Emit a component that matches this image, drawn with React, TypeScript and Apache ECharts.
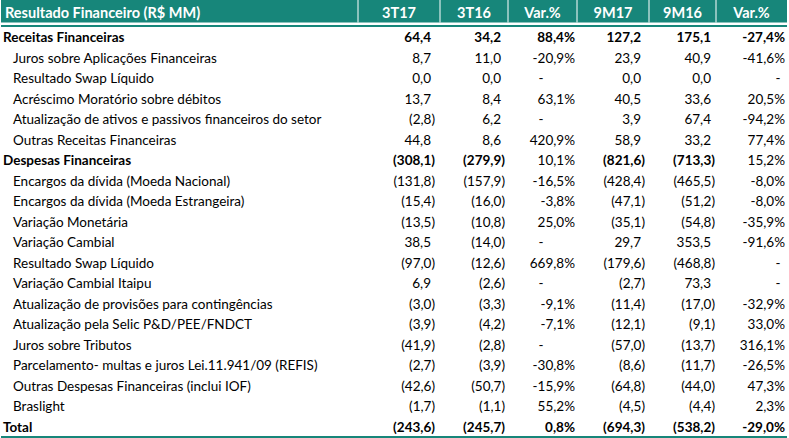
import React, { useEffect, useRef } from "react";
import * as echarts from "echarts";

const title = "Resultado Financeiro (R$ MM)";
const columns = ["3T17", "3T16", "Var.%", "9M17", "9M16", "Var.%"];

const rowLabels = [
  "Receitas Financeiras",
  "Juros sobre Aplicações Financeiras",
  "Resultado Swap Líquido",
  "Acréscimo Moratório sobre débitos",
  "Atualização de ativos e passivos financeiros do setor",
  "Outras Receitas Financeiras",
  "Despesas Financeiras",
  "Encargos da dívida (Moeda Nacional)",
  "Encargos da dívida (Moeda Estrangeira)",
  "Variação Monetária",
  "Variação Cambial",
  "Resultado Swap Líquido",
  "Variação Cambial Itaipu",
  "Atualização de provisões para contingências",
  "Atualização pela Selic P&D/PEE/FNDCT",
  "Juros sobre Tributos",
  "Parcelamento- multas e juros Lei.11.941/09 (REFIS)",
  "Outras Despesas Financeiras (inclui IOF)",
  "Braslight",
  "Total",
];
const boldRows = [0, 6, 19];
const boldPctRows = [0, 19];

const v3T17 = [64.4, 8.7, 0.0, 13.7, -2.8, 44.8, -308.1, -131.8, -15.4, -13.5, 38.5, -97.0, 6.9, -3.0, -3.9, -41.9, -2.7, -42.6, -1.7, -243.6];
const v3T16 = [34.2, 11.0, 0.0, 8.4, 6.2, 8.6, -279.9, -157.9, -16.0, -10.8, -14.0, -12.6, -2.6, -3.3, -4.2, -2.8, -3.9, -50.7, -1.1, -245.7];
const var3T = [88.4, -20.9, null, 63.1, null, 420.9, 10.1, -16.5, -3.8, 25.0, null, 669.8, null, -9.1, -7.1, null, -30.8, -15.9, 55.2, 0.8];
const v9M17 = [127.2, 23.9, 0.0, 40.5, 3.9, 58.9, -821.6, -428.4, -47.1, -35.1, 29.7, -179.6, -2.7, -11.4, -12.1, -57.0, -8.6, -64.8, -4.5, -694.3];
const v9M16 = [175.1, 40.9, 0.0, 33.6, 67.4, 33.2, -713.3, -465.5, -51.2, -54.8, 353.5, -468.8, 73.3, -17.0, -9.1, -13.7, -11.7, -44.0, -4.4, -538.2];
const var9M = [-27.4, -41.6, null, 20.5, -94.2, 77.4, 15.2, -8.0, -8.0, -35.9, -91.6, null, null, -32.9, 33.0, 316.1, -26.5, 47.3, 2.3, -29.0];

// layout
const W = 789;
const H = 438;
const colEdges = [1, 358, 440, 508, 577, 649, 716, 787];
const TEAL = "#17867A";
const FONT = "Lato, 'Open Sans', sans-serif";
const FS = 13.5;
const HFS = 14.5;

const fmtNum = (n: number) => {
  const s = Math.abs(n).toFixed(1).replace(".", ",");
  return n < 0 ? "(" + s + ")" : s;
};
const fmtPct = (n: number) => n.toFixed(1).replace(".", ",") + "%";

type Col = { values: (number | null)[]; kind: "num" | "pct"; right: number; dash: number };
const valueCols: Col[] = [
  { values: v3T17, kind: "num", right: 435, dash: 0 },
  { values: v3T16, kind: "num", right: 505, dash: 0 },
  { values: var3T, kind: "pct", right: 575, dash: 541 },
  { values: v9M17, kind: "num", right: 645, dash: 0 },
  { values: v9M16, kind: "num", right: 715, dash: 0 },
  { values: var9M, kind: "pct", right: 785, dash: 778 },
];
const PAREN_W = 4;

export default function App() {
  const ref = useRef<HTMLDivElement>(null);
  useEffect(() => {
    document.body.style.margin = "0";
    if (!ref.current) return;
    const chart = echarts.init(ref.current, undefined, { renderer: "svg" });

    const txt = (text: string, x: number, y: number, align: string, bold: boolean, fill = "#000", size = FS) => ({
      type: "text",
      style: {
        text,
        x,
        y,
        align,
        verticalAlign: "middle",
        textAlign: align,
        textVerticalAlign: "middle",
        fontFamily: FONT,
        fontSize: size,
        fontWeight: bold ? "bold" : "normal",
        fill,
      },
    });

    const graphics: any[] = [
      { type: "rect", shape: { x: colEdges[0], y: 0, width: colEdges[7] - colEdges[0], height: 22.5 }, style: { fill: TEAL } },
      { type: "rect", shape: { x: colEdges[0], y: 25, width: colEdges[7] - colEdges[0], height: 2 }, style: { fill: TEAL } },
      { type: "rect", shape: { x: colEdges[0], y: 436, width: colEdges[7] - colEdges[0], height: 2 }, style: { fill: TEAL } },
    ];
    for (let i = 1; i < 7; i++) {
      graphics.push({ type: "rect", shape: { x: colEdges[i] - 0.5, y: 0, width: 1, height: 22.5 }, style: { fill: "#ffffff" } });
    }
    graphics.push(txt(title, 5, 12, "left", true, "#fff", HFS));
    columns.forEach((c, i) => {
      graphics.push(txt(c, (colEdges[i + 1] + colEdges[i + 2]) / 2, 12, "center", true, "#fff", HFS));
    });

    chart.setOption({
      animation: false,
      grid: { left: 0, right: 0, top: 27, bottom: 1 },
      xAxis: { type: "value", min: 0, max: W, show: false },
      yAxis: { type: "category", data: rowLabels, inverse: true, show: false },
      graphic: graphics,
      series: [
        {
          type: "custom",
          data: rowLabels.map((_, i) => [0, i]),
          renderItem: (params: any, api: any) => {
            const r = params.dataIndex;
            const bold = boldRows.indexOf(r) >= 0;
            const boldPct = boldPctRows.indexOf(r) >= 0;
            const y = api.coord([0, r])[1];
            const children: any[] = [];
            const lx = api.coord([bold ? 3 : 13, r])[0];
            children.push(txt(rowLabels[r], lx, y, "left", bold));
            valueCols.forEach((c) => {
              const v = c.values[r];
              const b = c.kind === "pct" ? boldPct : bold;
              if (v === null || v === undefined) {
                children.push(txt("-", api.coord([c.kind === "pct" ? c.dash : c.right, r])[0], y, "center", b));
                return;
              }
              if (c.kind === "num") {
                const xr = api.coord([v < 0 ? c.right : c.right - PAREN_W, r])[0];
                children.push(txt(fmtNum(v), xr, y, "right", b));
              } else {
                children.push(txt(fmtPct(v), api.coord([c.right, r])[0], y, "right", b));
              }
            });
            return { type: "group", children };
          },
        },
      ],
    });
    return () => chart.dispose();
  }, []);
  return <div ref={ref} style={{ width: W, height: H }} />;
}
